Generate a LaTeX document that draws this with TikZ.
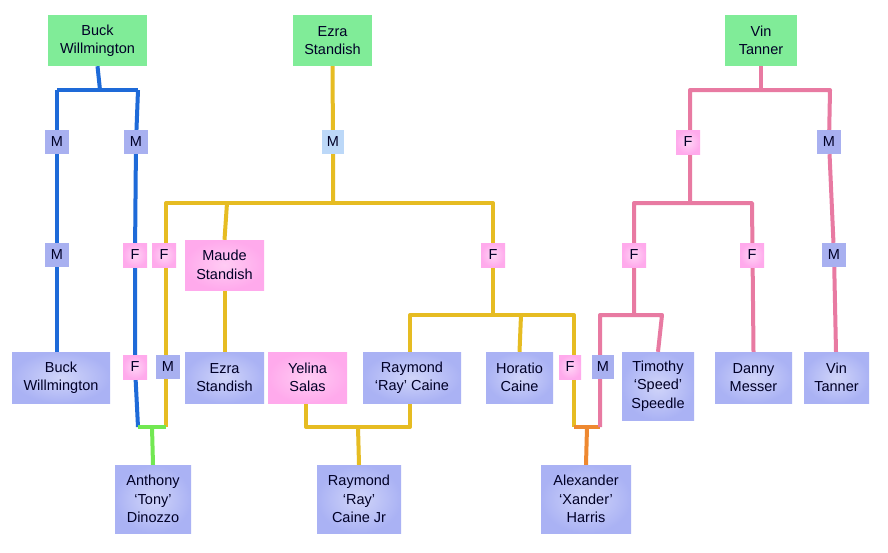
\documentclass[tikz,border=0pt]{standalone}
\usepackage{fontspec}
\setmainfont{Liberation Sans}
\usetikzlibrary{backgrounds}
\definecolor{boxg}{HTML}{80EC98}
\definecolor{boxb}{HTML}{AAB2F4}
\definecolor{boxp}{HTML}{FFAAEC}
\definecolor{labm}{HTML}{A8B0F0}
\definecolor{labe}{HTML}{BCD8F8}
\definecolor{lblue}{HTML}{1E6AD8}
\definecolor{lyel}{HTML}{E6BC22}
\definecolor{lpink}{HTML}{E87AA2}
\definecolor{lgreen}{HTML}{72E852}
\definecolor{lorange}{HTML}{EE8830}
\begin{document}
\begin{tikzpicture}[x=1pt,y=-1pt,
  font=\fontsize{14.5}{18.5}\selectfont,
  person/.style={inner sep=0pt,align=center,text=black!85!blue},
  gbox/.style={person,fill=boxg},
  bbox/.style={person,inner color=boxb!55!white,outer color=boxb},
  pbox/.style={person,inner color=boxp!60!white,outer color=boxp},
  mlab/.style={inner sep=0pt,minimum width=24pt,minimum height=24pt,fill=labm,text=black!85!blue},
  flab/.style={inner sep=0pt,minimum width=24pt,minimum height=24pt,inner color=boxp!50!white,outer color=boxp,text=black!85!blue},
  ln/.style={line width=4pt,line join=round}]
\useasboundingbox (0,0) rectangle (888,552);
% people
\node[gbox,minimum width=99pt,minimum height=51pt] (bucktop) at (97.5,40.5) {Buck\\Willmington};
\node[gbox,minimum width=79pt,minimum height=51pt] (ezratop) at (332.5,40.5) {Ezra\\Standish};
\node[gbox,minimum width=72pt,minimum height=51pt] (vintop) at (761,40.5) {Vin\\Tanner};
\node[pbox,minimum width=79pt,minimum height=50pt] (maude) at (224.5,265) {Maude\\Standish};
\node[bbox,minimum width=98pt,minimum height=51pt] (buckb) at (61,377.5) {Buck\\Willmington};
\node[bbox,minimum width=79pt,minimum height=51pt] (ezrab) at (224.5,377.5) {Ezra\\Standish};
\node[pbox,minimum width=79pt,minimum height=51pt] (yelina) at (307.5,377.5) {Yelina\\Salas};
\node[bbox,minimum width=98pt,minimum height=51pt] (ray) at (412,377.5) {Raymond\\‘Ray’ Caine};
\node[bbox,minimum width=67pt,minimum height=51pt] (horatio) at (519.5,377.5) {Horatio\\Caine};
\node[bbox,minimum width=72pt,minimum height=68pt] (tim) at (658,386) {Timothy\\‘Speed’\\Speedle};
\node[bbox,minimum width=77pt,minimum height=51pt] (danny) at (753.5,377.5) {Danny\\Messer};
\node[bbox,minimum width=65pt,minimum height=51pt] (vinb) at (836.5,377.5) {Vin\\Tanner};
\node[bbox,minimum width=76pt,minimum height=68pt] (tony) at (153,499) {Anthony\\‘Tony’\\Dinozzo};
\node[bbox,minimum width=84pt,minimum height=68pt] (rayjr) at (359,499) {Raymond\\‘Ray’\\Caine Jr};
\node[bbox,minimum width=90pt,minimum height=68pt] (xander) at (586,499) {Alexander\\‘Xander’\\Harris};
% labels
\node[mlab] (m1) at (57,142) {M};
\node[mlab] (m2) at (136,142) {M};
\node[mlab] (m3) at (57,255) {M};
\node[flab] (f1) at (135,255) {F};
\node[flab] (f2) at (164,255) {F};
\node[flab] (f3) at (135,367) {F};
\node[mlab] (m4) at (168,367) {M};
\node[inner sep=0pt,minimum width=22pt,minimum height=24pt,fill=labe,text=black!85!blue] (me) at (333,142) {M};
\node[flab] (f4) at (493,255) {F};
\node[flab,minimum width=22pt] (f5) at (570,367) {F};
\node[mlab,minimum width=22pt] (m5) at (603,367) {M};
\node[flab] (f6) at (688,142) {F};
\node[mlab] (m6) at (829,142) {M};
\node[flab] (f7) at (634,255) {F};
\node[flab] (f8) at (752,255) {F};
\node[mlab] (m7) at (834,255) {M};
\begin{scope}[on background layer]
\fill[white] (0,0) rectangle (888,552);
% blue
\draw[ln,lblue] (bucktop.south) -- (100,90) coordinate (bj);
\draw[ln,lblue] (57,90) -- (bj) -- (138,90);
\draw[ln,lblue] (57,90) -- (m1) -- (m3) -- (57,352);
\draw[ln,lblue] (138,90) -- (m2) -- (f1) -- (f3) -- (138,427) coordinate (gl);
% yellow
\draw[ln,lyel] (ezratop.south) -- (me) -- (333,203) coordinate (yj);
\draw[ln,lyel] (166,427) coordinate (gr) -- (166,203) -- (493,203) -- (493,315) coordinate (yj2);
\draw[ln,lyel] (227,203) -- (maude.north);
\draw[ln,lyel] (maude.south) -- (ezrab.north);
\draw[ln,lyel] (410,352) -- (410,315) -- (574,315) -- (574,427) coordinate (ol);
\draw[ln,lyel] (521,315) -- (horatio.north);
\draw[ln,lyel] (306,403) -- (306,427) -- (410,427) -- (410,403);
\draw[ln,lyel] (358,427) -- (rayjr.north);
% green & orange
\draw[ln,lgreen] (gl) -- (gr);
\draw[ln,lgreen] (152,427) -- (tony.north);
\draw[ln,lorange] (ol) -- (600,427) coordinate (or);
\draw[ln,lorange] (587,427) -- (xander.north);
% pink
\draw[ln,lpink] (vintop.south) -- (761,90);
\draw[ln,lpink] (690,203) -- (690,90) -- (830,90) -- (m6) -- (m7) -- (836,352);
\draw[ln,lpink] (634,315) -- (634,203) -- (752,203) -- (danny.north);
\draw[ln,lpink] (or) -- (600,315) -- (662,315) -- (tim.north);
\end{scope}
\end{tikzpicture}
\end{document}
